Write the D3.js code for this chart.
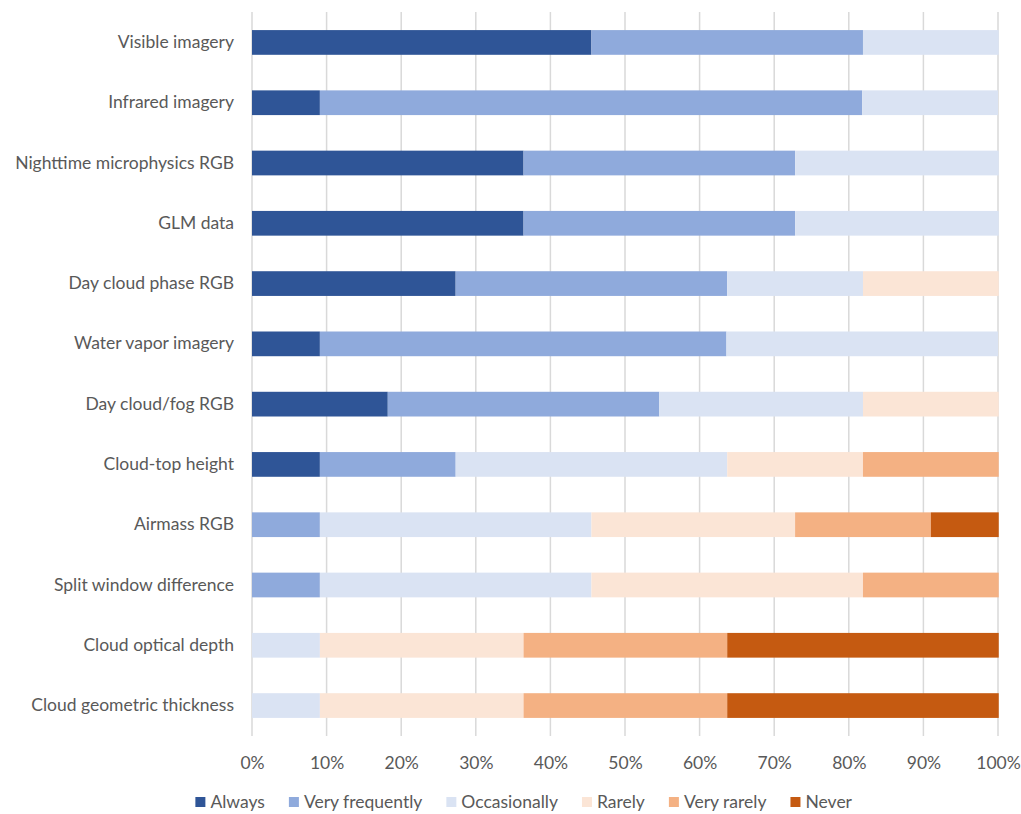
<!DOCTYPE html>
<html>
<head>
<meta charset="utf-8">
<script src="https://cdn.jsdelivr.net/npm/d3@7"></script>
<style>
  body { margin: 0; background: #fff; }
  text { font-family: Lato, "Liberation Sans", Arial, sans-serif; fill: #595959; }
</style>
</head>
<body>
<div id="chart"></div>
<script>
var categories = ['Visible imagery', 'Infrared imagery', 'Nighttime microphysics RGB', 'GLM data',
    'Day cloud phase RGB', 'Water vapor imagery', 'Day cloud/fog RGB', 'Cloud-top height',
    'Airmass RGB', 'Split window difference', 'Cloud optical depth', 'Cloud geometric thickness'];

var seriesNames = ['Always', 'Very frequently', 'Occasionally', 'Rarely', 'Very rarely', 'Never'];
var colors = ['#2F5597', '#8FAADC', '#DAE3F3', '#FBE5D6', '#F4B183', '#C55A11'];

// percent of responses per category, in series order
var always         = [45.5,  9.1, 36.4, 36.4, 27.3,  9.1, 18.2,  9.1,  0,    0,    0,    0];
var veryFrequently = [36.4, 72.7, 36.4, 36.4, 36.4, 54.5, 36.4, 18.2,  9.1,  9.1,  0,    0];
var occasionally   = [18.2, 18.2, 27.3, 27.3, 18.2, 36.4, 27.3, 36.4, 36.4, 36.4,  9.1,  9.1];
var rarely         = [ 0,    0,    0,    0,   18.2,  0,   18.2, 18.2, 27.3, 36.4, 27.3, 27.3];
var veryRarely     = [ 0,    0,    0,    0,    0,    0,    0,   18.2, 18.2, 18.2, 27.3, 27.3];
var never          = [ 0,    0,    0,    0,    0,    0,    0,    0,    9.1,  0,   36.4, 36.4];

var tickValues = [0, 10, 20, 30, 40, 50, 60, 70, 80, 90, 100];

var W = 1021, H = 814;
var margin = { top: 12, left: 252, right: 23, bottom: 78 },
    width = W - margin.left - margin.right,
    height = H - margin.top - margin.bottom;
var fontSize = '17.5px';

var svgRoot = d3.select('#chart').append('svg')
    .attr('width', W)
    .attr('height', H);

var svg = svgRoot.append('g')
    .attr('transform', 'translate(' + margin.left + ',' + margin.top + ')');

var values = [always, veryFrequently, occasionally, rarely, veryRarely, never];
var rows = categories.map(function (c, i) {
    var row = { name: c };
    seriesNames.forEach(function (s, j) { row[s] = values[j][i]; });
    return row;
});

var stacked = d3.stack().keys(seriesNames)(rows);

var x = d3.scaleLinear().domain([0, 100]).range([0, width]);
var y = d3.scaleBand().domain(categories).range([0, height]).paddingInner(0.59).paddingOuter(0.3);

// gridlines
svg.selectAll('.grid')
    .data(tickValues)
    .enter()
    .append('line')
    .attr('class', 'grid')
    .attr('x1', d => x(d)).attr('x2', d => x(d))
    .attr('y1', 0).attr('y2', height)
    .attr('stroke', '#d9d9d9')
    .attr('stroke-width', 1.5);

// bars
svg.selectAll('.series')
    .data(stacked)
    .enter()
    .append('g')
    .attr('class', 'series')
    .attr('fill', (d, i) => colors[i])
    .selectAll('rect')
    .data(d => d)
    .enter()
    .append('rect')
    .attr('x', d => x(d[0]))
    .attr('y', d => y(d.data.name))
    .attr('width', d => x(d[1]) - x(d[0]))
    .attr('height', y.bandwidth());

// y labels
var yAxis = d3.axisLeft(y).tickSize(0).tickPadding(18);
var gy = svg.append('g').call(yAxis);
gy.select('.domain').remove();
gy.selectAll('text').style('font-size', fontSize).attr('fill', '#595959')
    .style('font-family', 'Lato, "Liberation Sans", Arial, sans-serif');

// x labels
var xAxis = d3.axisBottom(x).tickValues(tickValues).tickSize(0).tickPadding(21)
    .tickFormat(d => d + '%');
var gx = svg.append('g').attr('transform', 'translate(0,' + height + ')').call(xAxis);
gx.select('.domain').remove();
gx.selectAll('text').style('font-size', fontSize).attr('fill', '#595959')
    .style('font-family', 'Lato, "Liberation Sans", Arial, sans-serif');

// legend
var legend = svgRoot.append('g');
var items = legend.selectAll('.item')
    .data(seriesNames)
    .enter()
    .append('g')
    .attr('class', 'item');
items.append('rect')
    .attr('width', 10).attr('height', 10)
    .attr('y', -5)
    .attr('fill', (d, i) => colors[i]);
items.append('text')
    .attr('x', 15)
    .attr('dy', '0.35em')
    .style('font-size', fontSize)
    .text(d => d);

var gap = 24;
var pos = 0, offsets = [];
items.each(function () {
    offsets.push(pos);
    pos += this.getBBox().width + gap;
});
var total = pos - gap;
var startX = 524 - total / 2;
items.attr('transform', (d, i) => 'translate(' + (startX + offsets[i]) + ',802)');
</script>
</body>
</html>
